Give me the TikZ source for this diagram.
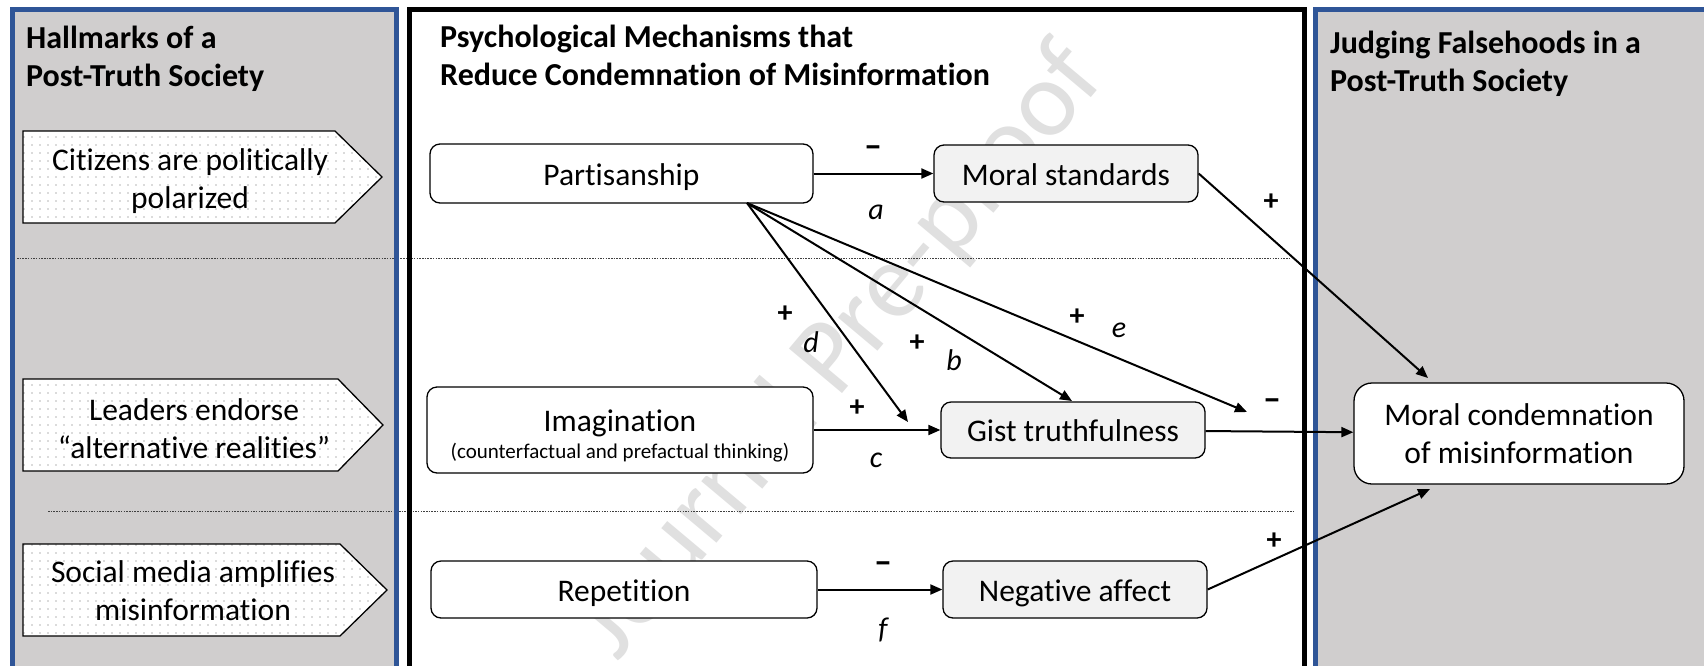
\documentclass[tikz,border=0pt]{standalone}
\usepackage{fontspec}
\setmainfont[Ligatures={NoCommon}]{Carlito}
\usetikzlibrary{arrows.meta,patterns,calc}
\definecolor{panelgray}{HTML}{D0CECE}
\definecolor{panelblue}{HTML}{2F5597}
\definecolor{boxgray}{HTML}{F2F2F2}
\definecolor{wmgray}{HTML}{E0E0E0}
\definecolor{dotgray}{HTML}{B8B8B8}
\pgfdeclarepatternformonly{sparsedots}{\pgfqpoint{-1pt}{-1pt}}{\pgfqpoint{1pt}{1pt}}{\pgfqpoint{8pt}{8pt}}{\pgfpathcircle{\pgfqpoint{0pt}{0pt}}{0.8pt}\pgfusepath{fill}}
\tikzset{
  title/.style={font=\bfseries\fontsize{32}{38}\selectfont, align=left, inner sep=0pt},
  sigtext/.style={font=\fontsize{31.5}{38}\selectfont, align=center, inner sep=0pt},
  sigshape/.style={line width=1.3pt, preaction={fill=white}, pattern=sparsedots, pattern color=dotgray},
  box/.style={draw, line width=1.3pt, rounded corners=10pt, inner sep=0pt, fill=white,
    font=\fontsize{31.5}{38}\selectfont, text height=25pt, text depth=2pt, align=center},
  gbox/.style={box, fill=boxgray},
  arr/.style={line width=2pt, -{Triangle[length=12pt,width=10pt]}},
  sign/.style={font=\bfseries\fontsize{30}{30}\selectfont, inner sep=0pt},
  minus/.style={font=\bfseries\fontsize{36}{36}\selectfont, inner sep=0pt},
  path label/.style={font=\itshape\fontsize{30}{30}\selectfont, inner sep=0pt},
  sep line/.style={line width=1pt, dash pattern=on 1.5pt off 1.2pt, black!75}
}
\begin{document}
\begin{tikzpicture}[x=1pt,y=-1pt]
\useasboundingbox (0,0) rectangle (1704,665);
\clip (0,0) rectangle (1704,665);
% panel fills
\fill[white] (0,0) rectangle (1704,665);
\fill[panelgray] (12,9.5) rectangle (396,700);
\fill[panelgray] (1315,9.5) rectangle (1720,700);
% watermark
\node[rotate=50, font=\fontsize{108}{108}\selectfont, text=wmgray] (wm) at (840,352) {Journal Pre-proof};
% separator lines
\draw[sep line] (17,258.5) -- (1290,258.5);
\draw[sep line] (48,511.5) -- (1293,511.5);
% panel borders
\draw[panelblue, line width=5pt] (12,700) -- (12,9.5) -- (396,9.5) -- (396,700);
\draw[black, line width=5pt] (409.5,700) -- (409.5,9.5) -- (1304.5,9.5) -- (1304.5,700);
\draw[panelblue, line width=5pt] (1315,700) -- (1315,9.5) -- (1720,9.5);
% titles
\node[title, anchor=base west] (t1) at (26,86) {Hallmarks of a\\Post-Truth Society};
\node[title, anchor=base west] (t2) at (440,85) {Psychological Mechanisms that\\Reduce Condemnation of Misinformation};
\node[title, anchor=base west] (t3) at (1330,91) {Judging Falsehoods in a\\Post-Truth Society};
% hallmark arrows
\draw[sigshape] (23,131) -- (335,131) -- (382,177) -- (335,223) -- (23,223) -- cycle;
\draw[sigshape] (23,379) -- (338,379) -- (383,425) -- (338,471) -- (23,471) -- cycle;
\draw[sigshape] (23,544) -- (340,544) -- (387,590) -- (340,636) -- (23,636) -- cycle;
\node[sigtext] (h1) at (190,181) {Citizens are politically\\polarized};
\node[sigtext] (h2) at (194,429) {Leaders endorse\\\char"201C alternative realities\char"201D};
\node[sigtext] (h3) at (193,591) {Social media amplifies\\misinformation};
% mechanism nodes
\node[box, minimum width=383pt, minimum height=59pt] (part) at (621.5,173.5) {Partisanship};
\node[gbox, minimum width=264pt, minimum height=57pt] (moral) at (1066,173.5) {Moral standards};
\node[box, minimum width=386pt, minimum height=86pt, text height=, text depth=] (imag) at (620,430) {\rule{0pt}{33pt}Imagination\\[-11pt]{\fontsize{21}{24}\selectfont (counterfactual and prefactual thinking)}};
\node[gbox, minimum width=264pt, minimum height=56pt] (gist) at (1073,430) {Gist truthfulness};
\node[box, minimum width=386pt, minimum height=57pt] (rep) at (624,589.5) {Repetition};
\node[gbox, minimum width=264pt, minimum height=57pt] (neg) at (1075,589.5) {Negative affect};
\node[box, rounded corners=18pt, minimum width=330pt, minimum height=101pt, text height=, text depth=] (mc) at (1519,433.5) {Moral condemnation\\of misinformation};
% connector ends
\coordinate (fan) at (747,203);
\coordinate (dend) at (908,422);
\coordinate (bend) at (1072,401);
\coordinate (eend) at (1247,412);
\coordinate (mctop) at (1428,378);
\coordinate (mcbot) at (1430,489);
% connectors
\draw[arr] (part) -- (moral);
\draw[arr] (moral.east) -- (mctop);
\draw[arr] (imag) -- (gist);
\draw[arr] (gist) -- (mc);
\draw[arr] (rep) -- (neg);
\draw[arr] (neg.east) -- (mcbot);
\draw[arr] (fan) -- (dend);
\draw[arr] (fan) -- (bend);
\draw[arr] (fan) -- (eend);
% signs and path labels
\node[minus] (sa) at (873,152) {\char"2013};
\node[path label] (la) at (876,212) {a};
\node[sign] (sms) at (1271,202) {+};
\node[sign] (sd) at (785,314) {+};
\node[path label] (ld) at (811,342) {d};
\node[sign] (sb) at (917,343) {+};
\node[path label] (lb) at (954,360) {b};
\node[sign] (se) at (1077,317) {+};
\node[path label] (le) at (1119,330) {e};
\node[minus] (sgm) at (1272,405) {\char"2013};
\node[sign] (sc) at (857,408) {+};
\node[path label] (lc) at (876,460) {c};
\node[minus] (sf) at (883,568) {\char"2013};
\node[path label] (lf) at (883,630) {f};
\node[sign] (sn) at (1274,541) {+};
\end{tikzpicture}
\end{document}
